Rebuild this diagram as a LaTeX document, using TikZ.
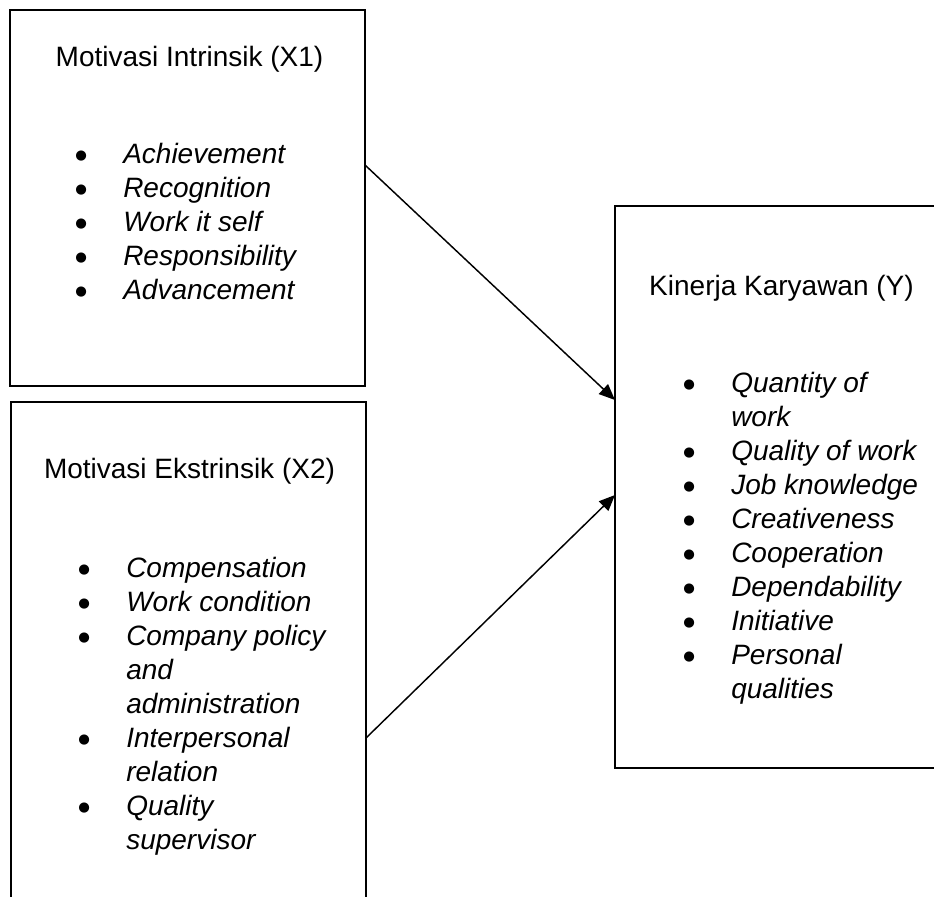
\documentclass[tikz,border=0pt]{standalone}
\usepackage{fontspec}
\setmainfont{Liberation Sans}
\newfontfamily\dejavu{DejaVu Sans}
\usetikzlibrary{arrows.meta,calc}
\newcommand{\itm}[1]{\makebox[63pt][c]{\raisebox{3pt}{\fontsize{10}{10}\selectfont\dejavu ●}}\textit{#1}}
\newcommand{\cnt}[1]{\hspace*{63pt}\textit{#1}}
\begin{document}
\begin{tikzpicture}[x=0.75pt,y=-0.75pt,
  box/.style={draw, line width=1.9pt, inner sep=0pt, outer sep=0pt, rectangle},
  ttl/.style={anchor=base, inner sep=0pt, font=\fontsize{21}{25.5}\selectfont},
  lst/.style={anchor=base west, inner sep=0pt, font=\fontsize{21}{25.5}\selectfont},
  arr/.style={line width=1.1pt, -{Triangle[length=12pt,width=10pt]}}]
\useasboundingbox (0,0) rectangle (934,896);
\clip (0,0) rectangle (934,896);
\fill[white] (0,0) rectangle (934,896);

\node[box, minimum width=266.25pt, minimum height=282pt] (b1) at (187.5,198) {};
\node[box, minimum width=266.25pt, minimum height=382.5pt] (b2) at (188.5,657) {};
\node[box, minimum width=249.75pt, minimum height=421.5pt] (b3) at (781.5,487) {};

\node[ttl] (t1) at (189.5,66) {Motivasi Intrinsik (X1)};
\node[ttl] (t2) at (189.5,478) {Motivasi Ekstrinsik (X2)};
\node[ttl] (t3) at (781.5,295) {Kinerja Karyawan (Y)};

\node[lst] (l1) at (39,163) {\begin{tabular}[t]{@{}l@{}}
\itm{Achievement}\\
\itm{Recognition}\\
\itm{Work it self}\\
\itm{Responsibility}\\
\itm{Advancement}
\end{tabular}};

\node[lst] (l2) at (42,577) {\begin{tabular}[t]{@{}l@{}}
\itm{Compensation}\\
\itm{Work condition}\\
\itm{Company policy}\\
\cnt{and}\\
\cnt{administration}\\
\itm{Interpersonal}\\
\cnt{relation}\\
\itm{Quality}\\
\cnt{supervisor}
\end{tabular}};

\node[lst] (l3) at (647,392) {\begin{tabular}[t]{@{}l@{}}
\itm{Quantity of}\\
\cnt{work}\\
\itm{Quality of work}\\
\itm{Job knowledge}\\
\itm{Creativeness}\\
\itm{Cooperation}\\
\itm{Dependability}\\
\itm{Initiative}\\
\itm{Personal}\\
\cnt{qualities}
\end{tabular}};

\draw[arr] (b1.east |- 0,165) -- (b3.west |- 0,400);
\draw[arr] (b2.east |- 0,738) -- (b3.west |- 0,495);
\end{tikzpicture}
\end{document}
